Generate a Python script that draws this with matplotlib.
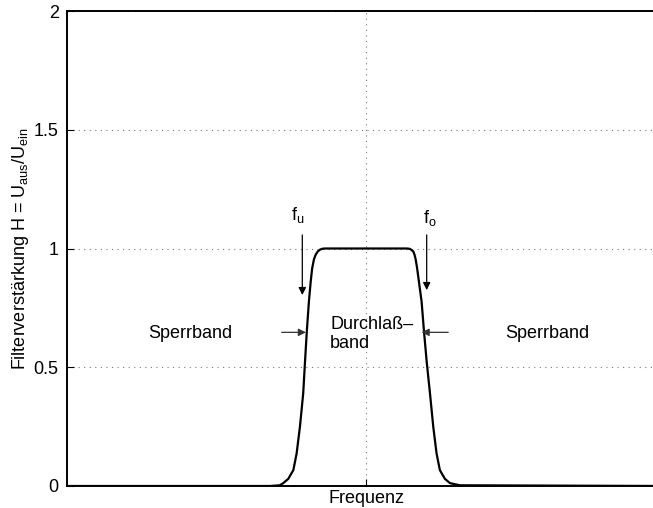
import matplotlib
matplotlib.use('Agg')
import matplotlib.pyplot as plt

plt.rcParams['font.family'] = ['Liberation Sans', 'DejaVu Sans']
plt.rcParams['mathtext.fontset'] = 'custom'
plt.rcParams['mathtext.rm'] = 'Liberation Sans'
plt.rcParams['mathtext.it'] = 'Liberation Sans'

# Filterkurve (normierte Frequenz)
freq = [0.0, 0.679, 0.712, 0.723, 0.740, 0.757, 0.768, 0.779, 0.790, 0.796,
        0.802, 0.809, 0.815, 0.820, 0.826, 0.832, 0.839, 0.846, 0.854, 0.863,
        1.136, 1.145, 1.151, 1.158, 1.162, 1.166, 1.171, 1.177, 1.186, 1.194,
        1.203, 1.214, 1.225, 1.236, 1.247, 1.264, 1.281, 1.314, 2.0]
gain = [0.0, 0.0, 0.003, 0.012, 0.030, 0.067, 0.137, 0.249, 0.390, 0.523,
        0.650, 0.776, 0.860, 0.917, 0.955, 0.975, 0.988, 0.995, 0.999, 1.0,
        1.0, 0.999, 0.995, 0.988, 0.975, 0.955, 0.917, 0.860, 0.776, 0.650,
        0.523, 0.390, 0.249, 0.137, 0.067, 0.030, 0.012, 0.003, 0.0]

yticks = [0, 0.5, 1, 1.5, 2]
yticklabels = ['0', '0.5', '1', '1.5', '2']

fig = plt.figure(figsize=(6.53, 5.08), dpi=100)
ax = fig.add_axes([67 / 653, 22 / 508, 598 / 653, 475 / 508])

ax.plot(freq, gain, color='black', linewidth=1.6, solid_capstyle='round')

ax.set_xlim(0, 2)
ax.set_ylim(0, 2)
ax.set_xticks([1])
ax.set_xticklabels([''])
ax.set_yticks(yticks)
ax.set_yticklabels(yticklabels)
ax.tick_params(direction='in', length=5, width=0.8, labelsize=13, pad=6)
ax.grid(True, linestyle=(0, (1, 4)), color='#777777', linewidth=0.8)
for s in ax.spines.values():
    s.set_linewidth(1.4)

ax.set_xlabel('Frequenz', fontsize=13, labelpad=-3)
ax.set_ylabel(r'Filterverstärkung H = $\mathregular{U_{aus}/U_{ein}}$',
              fontsize=13, labelpad=2)

# Beschriftungen
fs = 13
ax.text(0.773, 1.14, r'$\mathregular{f_u}$', fontsize=fs, ha='center', va='center')
ax.text(1.214, 1.13, r'$\mathregular{f_o}$', fontsize=fs, ha='center', va='center')
ax.text(0.411, 0.64, 'Sperrband', fontsize=fs, ha='center', va='center')
ax.text(1.605, 0.64, 'Sperrband', fontsize=fs, ha='center', va='center')
ax.text(0.880, 0.640, 'Durchlaß–\nband', fontsize=fs, ha='left', va='center',
        linespacing=1.2)

arrow = dict(arrowstyle='-|>', color='black', linewidth=0.9,
             mutation_scale=11, shrinkA=0, shrinkB=0)
ax.annotate('', xy=(0.787, 0.804), xytext=(0.787, 1.057), arrowprops=arrow)
ax.annotate('', xy=(1.203, 0.825), xytext=(1.203, 1.057), arrowprops=arrow)
harrow = dict(arrow, color='#333333')
ax.annotate('', xy=(0.799, 0.647), xytext=(0.718, 0.647), arrowprops=harrow)
ax.annotate('', xy=(1.186, 0.647), xytext=(1.275, 0.647), arrowprops=harrow)

fig.savefig('out.png', dpi=100)
